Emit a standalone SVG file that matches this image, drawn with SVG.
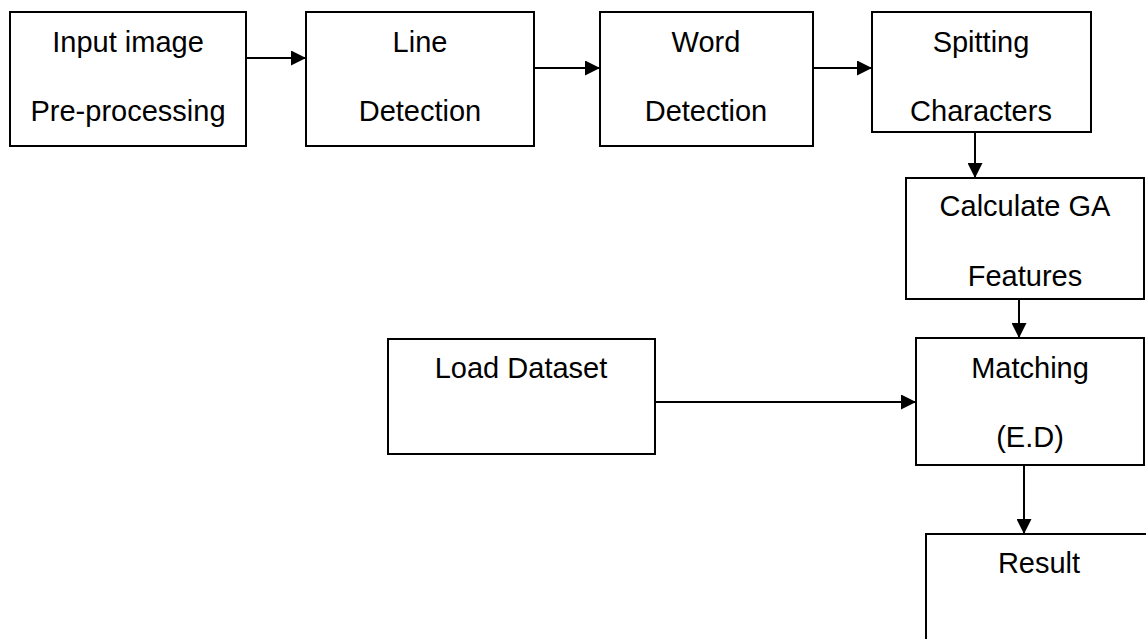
<svg xmlns="http://www.w3.org/2000/svg" width="1146" height="639" viewBox="0 0 1146 639">
<style>
.box{fill:#fff;stroke:#000;stroke-width:2}
.t{font-family:"Liberation Sans",Arial,sans-serif;font-size:29px;fill:#000;text-anchor:middle}
.c{stroke:#000;stroke-width:2;fill:none;marker-end:url(#ah)}
</style>
<defs>
<marker id="ah" markerUnits="userSpaceOnUse" markerWidth="16" markerHeight="15" refX="15" refY="7.5" orient="auto">
<path d="M0,0 L15,7.5 L0,15 Z" fill="#000"/>
</marker>
</defs>
<rect width="1146" height="639" fill="#fff"/>
<g id="connectors">
<line class="c" x1="246" y1="58" x2="306" y2="58"/>
<line class="c" x1="534" y1="68" x2="600" y2="68"/>
<line class="c" x1="813" y1="68" x2="872" y2="68"/>
<line class="c" x1="975" y1="132" x2="975" y2="178"/>
<line class="c" x1="1019" y1="299" x2="1019" y2="338"/>
<line class="c" x1="655" y1="402" x2="916" y2="402"/>
<line class="c" x1="1024" y1="465" x2="1024" y2="534"/>
</g>
<g id="input">
<rect class="box" x="10" y="12" width="236" height="134"/>
<text class="t" x="128" y="52">Input image</text>
<text class="t" x="128" y="121">Pre-processing</text>
</g>
<g id="line">
<rect class="box" x="306" y="12" width="228" height="134"/>
<text class="t" x="420" y="52">Line</text>
<text class="t" x="420" y="121">Detection</text>
</g>
<g id="word">
<rect class="box" x="600" y="12" width="213" height="134"/>
<text class="t" x="706" y="52">Word</text>
<text class="t" x="706" y="121">Detection</text>
</g>
<g id="split">
<rect class="box" x="872" y="12" width="219" height="120"/>
<text class="t" x="981" y="52">Spitting</text>
<text class="t" x="981" y="121">Characters</text>
</g>
<g id="calc">
<rect class="box" x="906" y="178" width="238" height="121"/>
<text class="t" x="1025" y="216">Calculate GA</text>
<text class="t" x="1025" y="286">Features</text>
</g>
<g id="load">
<rect class="box" x="388" y="339" width="267" height="115"/>
<text class="t" x="521" y="378">Load Dataset</text>
</g>
<g id="match">
<rect class="box" x="916" y="338" width="228" height="127"/>
<text class="t" x="1030" y="378">Matching</text>
<text class="t" x="1030" y="447">(E.D)</text>
</g>
<g id="result">
<rect class="box" x="926" y="534" width="240" height="130"/>
<text class="t" x="1039" y="573">Result</text>
</g>
</svg>
